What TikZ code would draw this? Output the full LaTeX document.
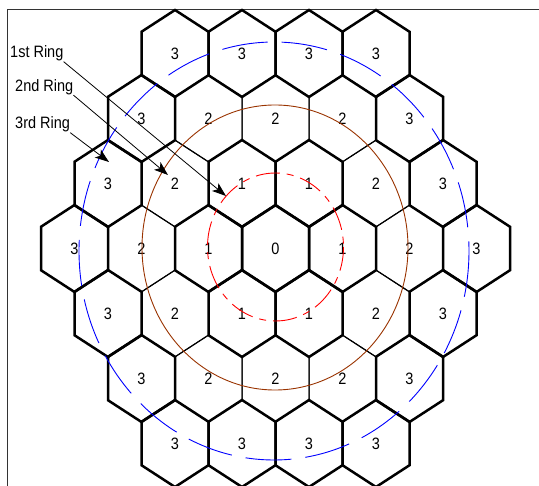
\documentclass[tikz,border=0pt]{standalone}
\usepackage{fontspec}
\setmainfont{Liberation Sans}
\usetikzlibrary{arrows.meta}
\definecolor{ringRed}{RGB}{255,0,0}
\definecolor{ringBrown}{RGB}{153,51,0}
\definecolor{ringBlue}{RGB}{0,0,255}
\tikzset{
    hexcell/.pic={
        \path[pic actions] (0,-43.5) -- (33.5,-21.75) -- (33.5,21.75)
            -- (0,43.5) -- (-33.5,21.75) -- (-33.5,-21.75) -- cycle;
    },
    hexthick/.style={draw=black, line width=2.5pt},
    hexthin/.style={draw=black, line width=1pt},
    celllabel/.style={font=\fontsize{14.5}{16}\selectfont, inner sep=0pt, yscale=1.136},
    ringlabel/.style={font=\fontsize{14.5}{16}\selectfont, inner sep=0pt, yscale=1.136,
        anchor=base west},
    arr/.style={-{Stealth[length=14pt,width=10pt,inset=3.5pt]}, line width=0.8pt},
}

\begin{document}
\begin{tikzpicture}[x=1pt, y=-1pt]
\useasboundingbox (0,0) rectangle (539,486);

% Frame
\draw[line width=1pt, black!80] (7.3,486) -- (7.3,9.5) -- (539,9.5);

% Ring 2 (thin outlines, drawn first)
\foreach \q/\r [count=\k] in {2/0,-2/0,0/2,0/-2,2/-2,-2/2,1/1,-1/-1,2/-1,-2/1,1/-2,-1/2} {
    \pic[hexthin] at ({275.5+67*\q+33.5*\r},{248.5+65*\r}) {hexcell};
    \node[celllabel] (rtwo\k) at ({275.5+67*\q+33.5*\r},{248.5+65*\r}) {2};
}

% Ring 3
\foreach \q/\r [count=\k] in {3/0,-3/0,0/3,0/-3,3/-3,-3/3,3/-1,3/-2,-3/1,-3/2,
        1/2,2/1,-1/-2,-2/-1,1/-3,2/-3,-1/3,-2/3} {
    \pic[hexthick] at ({275.5+67*\q+33.5*\r},{248.5+65*\r}) {hexcell};
    \node[celllabel] (rthree\k) at ({275.5+67*\q+33.5*\r},{248.5+65*\r}) {3};
}

% Ring 1
\foreach \q/\r [count=\k] in {1/0,-1/0,0/1,0/-1,1/-1,-1/1} {
    \pic[hexthick] at ({275.5+67*\q+33.5*\r},{248.5+65*\r}) {hexcell};
    \node[celllabel] (rone\k) at ({275.5+67*\q+33.5*\r},{248.5+65*\r}) {1};
}

% Centre cell
\pic[hexthick] at (275.5,248.5) {hexcell};
\node[celllabel] (centre) at (275.5,248.5) {0};

% Ring boundaries
\draw[ringRed, line width=0.9pt, dash pattern=on 24pt off 7pt on 7pt off 7pt]
    (275.5,247) ellipse [x radius=68, y radius=74];
\draw[ringBrown, line width=0.9pt] (275,247.5) ellipse [x radius=133, y radius=142.5];
\draw[ringBlue, line width=0.9pt, dash pattern=on 46pt off 14pt]
    (274,251) ellipse [x radius=195, y radius=209];

% Ring labels
\node[ringlabel] (lone) at (10,58) {1st Ring};
\node[ringlabel] (ltwo) at (15,91.5) {2nd Ring};
\node[ringlabel] (lthree) at (15,129) {3rd Ring};

\coordinate (tipone) at (226,196);
\coordinate (tiptwo) at (168,175);
\coordinate (tipthree) at (109,162);

\draw[arr] (lone.south east) -- (tipone);
\draw[arr] (ltwo.south east) -- (tiptwo);
\draw[arr] (lthree.south east) -- (tipthree);

\end{tikzpicture}
\end{document}
